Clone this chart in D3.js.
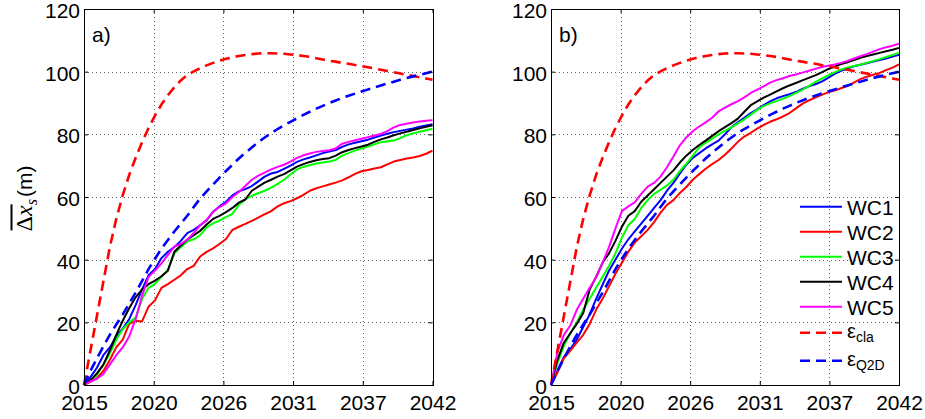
<!DOCTYPE html>
<html>
<head>
<meta charset="utf-8">
<script src="https://cdn.jsdelivr.net/npm/d3@7"></script>
<style>
  body { margin: 0; background: #fff; }
  svg { display: block; }
  text { font-family: "Liberation Sans", Arial, Helvetica, sans-serif; fill: #000; }
</style>
</head>
<body>
<svg id="chart" width="925" height="419"></svg>
<script>
// ---- time axis (half-year steps) ----
const years = [
  2015, 2015.5, 2016, 2016.5, 2017, 2017.5, 2018, 2018.5, 2019, 2019.5,
  2020, 2020.5, 2021, 2021.5, 2022, 2022.5, 2023, 2023.5, 2024, 2024.5,
  2025, 2025.5, 2026, 2026.5, 2027, 2027.5, 2028, 2028.5, 2029, 2029.5,
  2030, 2030.5, 2031, 2031.5, 2032, 2032.5, 2033, 2033.5, 2034, 2034.5,
  2035, 2035.5, 2036, 2036.5, 2037, 2037.5, 2038, 2038.5, 2039, 2039.5,
  2040, 2040.5, 2041, 2041.5, 2042
];

// ---- panel a) shoreline retreat per wave climate (m) ----
const wc1A = [0, 2.5, 5.5, 9.5, 12, 15.5, 18, 21, 25.5, 30.5,
  35, 37, 40.5, 42.5, 44, 46, 48.5, 49.5, 51, 52.5,
  55.3, 57, 58.5, 60.5, 61.8, 62.5, 63.5, 65, 66.5, 67.5,
  68, 69, 70, 71.2, 72, 72.6, 73.3, 74, 74.5, 75,
  76, 76.8, 77.3, 77.8, 78.3, 79, 79.6, 80.2, 80.7, 81.1,
  81.5, 81.9, 82.4, 82.8, 83.2];
const wc2A = [0, 1, 2.2, 4.5, 8, 12, 14.5, 19.5, 20.5, 20.3,
  25, 27, 31, 32.2, 33.6, 35, 37, 38, 41, 42.5,
  43.6, 45, 46.6, 49.5, 50.5, 51.4, 52.4, 53.4, 54.5, 55.5,
  57, 58, 58.7, 59.6, 60.7, 62, 62.8, 63.4, 64, 64.6,
  65.3, 66.3, 67.4, 68.2, 68.6, 69.1, 69.5, 70.4, 71.3, 71.8,
  72.3, 72.6, 73.1, 73.8, 74.8];
const wc3A = [0, 1.3, 3.2, 6.5, 10, 14.5, 17.8, 20, 21.5, 27.5,
  31, 32.3, 34.5, 36.8, 42, 44, 45.8, 46.5, 47.8, 50.3,
  51.6, 52.5, 53.6, 54.6, 57.5, 59.2, 60.4, 61.2, 62, 63,
  64.2, 65.5, 67.2, 68.8, 69.6, 70.2, 70.7, 71, 71.3, 71.8,
  73.2, 74, 74.8, 75.5, 76.1, 76.8, 77.5, 77.8, 78, 78.8,
  79.7, 80.3, 80.8, 81.3, 81.8];
const wc4A = [0, 1.5, 3.7, 6.5, 11, 16, 20.5, 24.5, 28, 30.5,
  32.2, 33.3, 34.7, 36.5, 42.5, 44.5, 46.4, 47.8, 49.2, 51.2,
  53, 54, 55.2, 56.5, 58.2, 59.2, 62, 63.3, 64.6, 65.5,
  66.5, 67.3, 68.5, 69.7, 70.5, 71.2, 71.7, 72.1, 72.4, 73.2,
  74.3, 75, 75.6, 76.1, 76.7, 77.6, 78.4, 79, 79.7, 80.3,
  80.8, 81.4, 81.9, 82.4, 82.9];
const wc5A = [0, 1.2, 2, 3.5, 6.5, 9.5, 12, 15.5, 21, 28.5,
  34.5, 36.5, 38.8, 41.5, 44.2, 45, 46.3, 48.5, 51, 52.7,
  55.3, 56.8, 58, 60, 61.6, 63.5, 65.5, 66.8, 67.8, 68.8,
  69.6, 70.3, 71.3, 72.5, 73.3, 73.9, 74.4, 74.7, 74.9, 75.5,
  77, 77.6, 78.1, 78.6, 79.1, 79.6, 80.1, 81, 82.2, 83,
  83.4, 83.8, 84.1, 84.3, 84.5];

// ---- panel b) ----
const wc1B = [0, 4.5, 9, 11.5, 14.5, 18.5, 22.5, 27.5, 32, 36.5,
  40, 43.5, 46.5, 49, 51.5, 54, 56.5, 59, 62, 64.5,
  67.5, 70.3, 72.5, 74, 75.5, 76.8, 78, 80, 82.3, 83.8,
  85.3, 86.8, 88, 89.3, 90.5, 91.5, 92.2, 92.8, 93.5, 94.5,
  95.3, 96, 96.8, 98, 99.3, 100.3, 101, 101.7, 102.2, 102.7,
  103.2, 103.7, 104.2, 104.8, 105.4];
const wc2B = [0, 4, 8.5, 11, 13.5, 16, 19.5, 24, 27.5, 31.5,
  35.5, 39, 42.5, 45.5, 47.5, 49.5, 52, 55, 57.5, 59,
  61.3, 63.2, 65.5, 67.3, 69, 70.5, 71.8, 73.5, 75.5, 77.6,
  79.3, 80.5, 81.8, 83, 84, 84.8, 85.7, 86.8, 88.3, 89.7,
  90.8, 91.7, 92.6, 93.4, 94, 94.7, 95.4, 96.5, 97.6, 98.4,
  99, 99.6, 100.5, 101.3, 102.3];
const wc3B = [0, 7, 12.5, 16.5, 20, 24, 27.5, 31, 34.5, 38,
  42, 47, 51, 53, 56.5, 59, 61, 62.3, 63.7, 65.5,
  68.3, 70.6, 73.2, 75.8, 77.3, 78.6, 80, 81.2, 82.2, 83.5,
  84.8, 86.3, 87.8, 89, 89.9, 90.6, 91.4, 92.2, 93.2, 94.2,
  95.4, 96.7, 97.8, 98.8, 99.8, 100.7, 101.3, 101.8, 102.2, 102.8,
  103.4, 104, 104.7, 105.3, 106];
const wc4B = [0, 8, 13.5, 16.5, 19.5, 23, 30.5, 34.5, 39, 42,
  46, 50.5, 54, 55.5, 58.5, 60.5, 62.5, 64.5, 66.5, 68.5,
  71, 73.2, 75, 76.6, 78, 79.5, 81, 82.3, 83.6, 85,
  87.2, 89.3, 90.5, 91.7, 92.7, 93.7, 94.7, 95.6, 96.4, 97.2,
  98, 98.8, 99.8, 100.8, 101.6, 102.4, 103, 103.7, 104.4, 105,
  105.5, 106, 106.5, 107, 107.6];
const wc5B = [0, 10.5, 16, 19, 24, 27.5, 31, 34.3, 39, 44,
  50, 55.5, 57, 58.3, 61, 63.3, 64.5, 66.5, 69.5, 72.9,
  76.5, 79, 81, 82.5, 83.8, 85.3, 87.3, 88.5, 89.6, 90.6,
  91.8, 93.2, 94.3, 95.3, 96.5, 97.3, 97.9, 98.6, 99.1, 99.7,
  100.3, 100.9, 101.5, 101.9, 102.3, 102.8, 103.4, 104.2, 104.9, 105.6,
  106.4, 107.2, 107.8, 108.3, 108.9];

// ---- model envelopes (shared by both panels) ----
const epsCla = [0, 11, 22, 33, 44, 53, 60.5, 67, 72.5, 77.5,
  82, 86, 89.5, 92.5, 95, 97.2, 98.9, 100.1, 101.1, 102,
  102.8, 103.5, 104.1, 104.6, 105, 105.3, 105.6, 105.8, 105.9, 105.9,
  105.8, 105.7, 105.5, 105.3, 105, 104.7, 104.3, 103.9, 103.5, 103.2,
  102.8, 102.5, 102.1, 101.8, 101.4, 101, 100.6, 100.2, 99.8, 99.4,
  99, 98.6, 98.2, 97.8, 97.4];
const epsQ2D = [0, 4.5, 8.5, 12.3, 16, 19.3, 22.5, 26, 29.5, 33.2,
  37, 40.3, 43.5, 46.3, 49, 51.5, 54, 56.8, 59.5, 61.8,
  64, 66.2, 68.3, 70.3, 72.3, 74.1, 75.8, 77.5, 79, 80.4,
  81.7, 82.9, 84, 85.1, 86.2, 87.2, 88.2, 89.1, 90, 90.8,
  91.6, 92.3, 93, 93.7, 94.3, 95, 95.6, 96.2, 96.8, 97.4,
  98, 98.5, 99, 99.5, 100];

// ---- axis ticks ----
const xTickValues = [2015, 2020.4, 2025.8, 2031.2, 2036.6, 2042];
const xTickLabels = ["2015", "2020", "2026", "2031", "2037", "2042"];
const yTickValues = [0, 20, 40, 60, 80, 100, 120];

const seriesNames = ["WC1", "WC2", "WC3", "WC4", "WC5"];
const seriesColors = ["#0000ff", "#ff0000", "#00ff00", "#000000", "#ff00ff"];
const modelColors = { cla: "#ff0000", q2d: "#0000ff" };

const svg = d3.select("#chart");
const plotTop = 9, plotBottom = 385;
const dash = "10,6";

function drawPanel(x0, x1, wcSeries, tag) {
  const x = d3.scaleLinear().domain([2015, 2042]).range([x0, x1]);
  const y = d3.scaleLinear().domain([0, 120]).range([plotBottom, plotTop]);
  const g = svg.append("g");

  // dotted grid
  const grid = g.append("g").attr("stroke", "#000").attr("stroke-opacity", 0.6)
    .attr("stroke-width", 1).attr("stroke-dasharray", "1,3");
  grid.selectAll("line.v").data(xTickValues.slice(1, -1)).join("line")
    .attr("x1", d => Math.round(x(d)) + 0.5).attr("x2", d => Math.round(x(d)) + 0.5)
    .attr("y1", plotTop).attr("y2", plotBottom);
  grid.selectAll("line.h").data(yTickValues.slice(1, -1)).join("line")
    .attr("y1", d => Math.round(y(d)) + 0.5).attr("y2", d => Math.round(y(d)) + 0.5)
    .attr("x1", x0).attr("x2", x1);

  // series
  const line = d3.line().x((d, i) => x(years[i])).y(d => y(d));
  wcSeries.forEach((s, k) => {
    g.append("path").datum(s).attr("d", line).attr("fill", "none")
      .attr("stroke", seriesColors[k]).attr("stroke-width", 2)
      .attr("stroke-linejoin", "round");
  });
  g.append("path").datum(epsCla).attr("d", line).attr("fill", "none")
    .attr("stroke", modelColors.cla).attr("stroke-width", 2.6).attr("stroke-dasharray", dash);
  g.append("path").datum(epsQ2D).attr("d", line).attr("fill", "none")
    .attr("stroke", modelColors.q2d).attr("stroke-width", 2.6).attr("stroke-dasharray", dash);

  // axes with inward ticks
  const font = "21px";
  const ax = g.append("g").attr("transform", `translate(0,${plotBottom})`)
    .call(d3.axisBottom(x).tickValues(xTickValues)
      .tickFormat((d, i) => xTickLabels[i]).tickSize(-4).tickPadding(10));
  const ay = g.append("g").attr("transform", `translate(${x0},0)`)
    .call(d3.axisLeft(y).tickValues(yTickValues).tickSize(-4).tickPadding(4));
  const at = g.append("g").attr("transform", `translate(0,${plotTop})`)
    .call(d3.axisTop(x).tickValues(xTickValues).tickFormat("").tickSize(-4));
  const ar = g.append("g").attr("transform", `translate(${x1},0)`)
    .call(d3.axisRight(y).tickValues(yTickValues).tickFormat("").tickSize(-4));
  [ax, ay, at, ar].forEach(a => {
    a.select(".domain").remove();
    a.selectAll(".tick line").attr("stroke", "#000");
    a.selectAll("text").attr("font-size", font)
      .attr("font-family", "'Liberation Sans', Arial, sans-serif").attr("fill", "#000");
  });
  ay.selectAll("text").attr("dy", "0.4em");

  // frame
  g.append("rect").attr("x", Math.round(x0) + 0.5).attr("y", plotTop + 0.5)
    .attr("width", Math.round(x1) - Math.round(x0)).attr("height", plotBottom - plotTop)
    .attr("fill", "none").attr("stroke", "#000").attr("stroke-width", 1);

  g.append("text").attr("x", x0 + 8).attr("y", 42).attr("font-size", "21px").text(tag);
  return { x, y, g };
}

drawPanel(84, 432.5, [wc1A, wc2A, wc3A, wc4A, wc5A], "a)");
drawPanel(551, 899, [wc1B, wc2B, wc3B, wc4B, wc5B], "b)");

// legend (panel b)
const leg = svg.append("g");
const lx0 = 800, lx1 = 842, tx = 847;
seriesNames.forEach((name, k) => {
  const ly = 206.7 + 25 * k;
  leg.append("line").attr("x1", lx0).attr("x2", lx1).attr("y1", ly).attr("y2", ly)
    .attr("stroke", seriesColors[k]).attr("stroke-width", 2);
  leg.append("text").attr("x", tx).attr("y", ly + 7.8).attr("font-size", "21px").text(name);
});
const modelLegend = [
  { sub: "cla", color: modelColors.cla, y: 332.7 },
  { sub: "Q2D", color: modelColors.q2d, y: 360.7 }
];
modelLegend.forEach(m => {
  leg.append("line").attr("x1", lx0).attr("x2", lx1).attr("y1", m.y).attr("y2", m.y)
    .attr("stroke", m.color).attr("stroke-width", 2.6).attr("stroke-dasharray", dash);
  const t = leg.append("text").attr("x", tx).attr("y", m.y + 5).attr("font-size", "20px");
  t.append("tspan").text("ε");
  t.append("tspan").attr("font-size", "14px").attr("dy", 4).text(m.sub);
});

// y-axis label: overline(Δx_s) (m)
const yl = svg.append("g").attr("transform", "translate(32,198.5) rotate(-90)");
const ylt = yl.append("text").attr("text-anchor", "middle").attr("y", 0);
ylt.append("tspan").attr("font-family", "'Liberation Serif', 'DejaVu Serif', serif")
  .attr("font-size", "24px").text("Δ");
ylt.append("tspan").attr("font-family", "'Liberation Serif', 'DejaVu Serif', serif")
  .attr("font-style", "italic").attr("font-size", "24px").text("x");
ylt.append("tspan").attr("font-family", "'Liberation Serif', 'DejaVu Serif', serif")
  .attr("font-style", "italic").attr("font-size", "16px").attr("dy", 5).text("s");
ylt.append("tspan").attr("font-size", "21px").attr("dy", -5).attr("dx", 2).text("(m)");
const totalLen = ylt.node().getComputedTextLength();
const overLen = ylt.node().getSubStringLength(0, 2);
yl.append("line").attr("x1", -totalLen / 2).attr("x2", -totalLen / 2 + overLen)
  .attr("y1", -20.5).attr("y2", -20.5).attr("stroke", "#000").attr("stroke-width", 2);
</script>
</body>
</html>
